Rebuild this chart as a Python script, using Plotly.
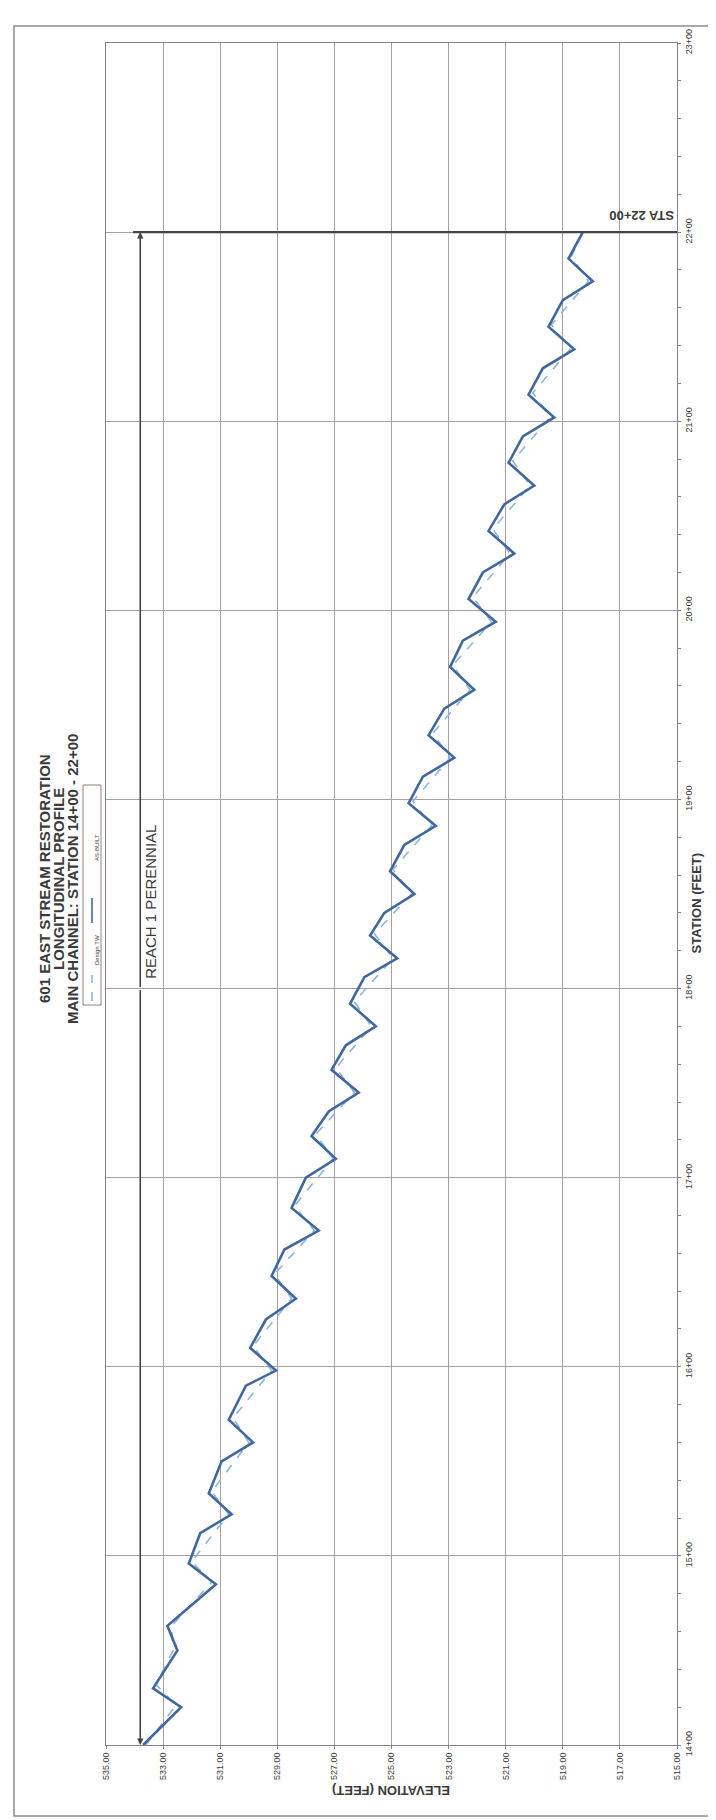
import plotly.graph_objects as go

# ---------------- data ----------------
asbuilt_station = [1400, 1420, 1430, 1450, 1463, 1485, 1496, 1512, 1522, 1533, 1550, 1560, 1572,
                   1590, 1598, 1610, 1625, 1636, 1648, 1662, 1672, 1684, 1700, 1710, 1722, 1735,
                   1745, 1757, 1770, 1780, 1792, 1806, 1816, 1828, 1840, 1850, 1862, 1876, 1886,
                   1898, 1912, 1922, 1934, 1948, 1958, 1970, 1984, 1994, 2006, 2020, 2030, 2042,
                   2056, 2066, 2078, 2092, 2102, 2114, 2128, 2138, 2150, 2164, 2174, 2186, 2200]
asbuilt_elev = [533.70, 532.37, 533.35, 532.50, 532.85, 531.15, 532.10, 531.70, 530.60, 531.40,
                530.95, 529.85, 530.70, 530.10, 529.05, 529.95, 529.40, 528.35, 529.20, 528.75,
                527.55, 528.50, 528.00, 526.95, 527.80, 527.20, 526.15, 527.10, 526.60, 525.55,
                526.45, 525.95, 524.80, 525.75, 525.25, 524.20, 525.05, 524.55, 523.45, 524.40,
                523.90, 522.80, 523.70, 523.15, 522.10, 522.95, 522.50, 521.35, 522.30, 521.80,
                520.70, 521.60, 521.05, 520.00, 520.90, 520.40, 519.30, 520.20, 519.70, 518.60,
                519.50, 519.00, 517.95, 518.80, 518.30]
design_station = [1400, 1421, 1432, 1450, 1463, 1486, 1497, 1522, 1534, 1560, 1573, 1598, 1611,
                  1636, 1649, 1672, 1685, 1710, 1723, 1745, 1758, 1780, 1793, 1816, 1829, 1850,
                  1863, 1886, 1899, 1922, 1935, 1958, 1971, 1994, 2007, 2030, 2043, 2066, 2079,
                  2102, 2115, 2138, 2151, 2174, 2187, 2200]
design_elev = [533.60, 532.55, 533.25, 532.65, 532.70, 531.30, 532.00, 530.70, 531.30, 530.00,
               530.55, 529.20, 529.85, 528.50, 529.10, 527.70, 528.40, 527.05, 527.65, 526.30,
               526.95, 525.70, 526.30, 524.95, 525.60, 524.30, 524.95, 523.60, 524.25, 522.95,
               523.55, 522.25, 522.85, 521.50, 522.15, 520.85, 521.45, 520.15, 520.75, 519.45,
               520.05, 518.75, 519.40, 518.10, 518.70, 518.30]

elev_ticks = [535, 533, 531, 529, 527, 525, 523, 521, 519, 517, 515]
elev_ticklabels = ["535.00", "533.00", "531.00", "529.00", "527.00", "525.00",
                   "523.00", "521.00", "519.00", "517.00", "515.00"]
station_ticks = [1400, 1500, 1600, 1700, 1800, 1900, 2000, 2100, 2200, 2300]
station_ticklabels = ["14+00", "15+00", "16+00", "17+00", "18+00",
                      "19+00", "20+00", "21+00", "22+00", "23+00"]

title_lines = ["601 EAST STREAM RESTORATION", "LONGITUDINAL PROFILE",
               "MAIN CHANNEL: STATION 14+00 - 22+00"]
reach_label = "REACH 1 PERENNIAL"
reach_elev = 533.8
reach_start, reach_end = 1400, 2200
sta_label = "STA 22+00"

# ---------------- layout geometry (pixels) ----------------
W, H = 716, 1820
L, R, T, B = 98, 669, 35, 1737


def px(x):
    return (x - L) / (R - L)


def py(y):
    return (B - y) / (B - T)


FONT = "Liberation Sans, Arial, sans-serif"
GRID = "#a99e9f"
TEXT = "#3a3a3a"

fig = go.Figure()
fig.add_trace(go.Scatter(x=design_elev, y=design_station, mode="lines", name="Design TW",
                         line=dict(color="#8fb4e0", width=1.6, dash="dash")))
fig.add_trace(go.Scatter(x=asbuilt_elev, y=asbuilt_station, mode="lines", name="AS-BUILT",
                         line=dict(color="#40689f", width=2.6)))

shapes = []
shapes.append(dict(type="rect", xref="paper", yref="paper", x0=px(6), x1=px(708),
                   y0=py(1808), y1=py(18), line=dict(color="#8c8c8c", width=1.5)))
shapes.append(dict(type="line", xref="x", yref="y", x0=534.05, x1=515, y0=reach_end,
                   y1=reach_end, line=dict(color="#444444", width=2.2)))
shapes.append(dict(type="rect", xref="paper", yref="paper", x0=px(75), x1=px(93),
                   y0=py(997), y1=py(777), line=dict(color="#9a7f80", width=1),
                   fillcolor="white"))
shapes.append(dict(type="line", xref="paper", yref="paper", x0=px(84), x1=px(84),
                   y0=py(993), y1=py(967), line=dict(color="#8fb4e0", width=1.6, dash="dash")))
shapes.append(dict(type="line", xref="paper", yref="paper", x0=px(84), x1=px(84),
                   y0=py(915), y1=py(890), line=dict(color="#40689f", width=1.6)))

annotations = []
for i, line in enumerate(title_lines):
    annotations.append(dict(text="<b>%s</b>" % line, xref="paper", yref="paper",
                            x=px(37 + 14 * i), y=py(871), textangle=-90, showarrow=False,
                            xanchor="center", yanchor="middle",
                            font=dict(family=FONT, size=15, color=TEXT)))
annotations.append(dict(text="Design TW", xref="paper", yref="paper", x=px(84), y=py(942),
                        textangle=-90, showarrow=False, font=dict(family=FONT, size=6, color=TEXT)))
annotations.append(dict(text="AS-BUILT", xref="paper", yref="paper", x=px(84), y=py(840),
                        textangle=-90, showarrow=False, font=dict(family=FONT, size=6, color=TEXT)))
annotations.append(dict(text=reach_label, x=533.45, y=1846, xref="x", yref="y", textangle=-90,
                        showarrow=False, font=dict(family=FONT, size=15, color=TEXT)))
for head in (reach_end, reach_start):
    annotations.append(dict(x=reach_elev, y=head, ax=reach_elev, ay=1800, xref="x", yref="y",
                            axref="x", ayref="y", text="", showarrow=True, arrowhead=2,
                            arrowsize=0.8, arrowwidth=1.6, arrowcolor="#444444"))
annotations.append(dict(text="<b>%s</b>" % sta_label, xref="paper", yref="paper", x=px(668),
                        y=py(207), textangle=180, showarrow=False, xanchor="right",
                        yanchor="middle", font=dict(family=FONT, size=13, color=TEXT)))
annotations.append(dict(text="<b>STATION (FEET)</b>", xref="paper", yref="paper", x=px(697),
                        y=py(895), textangle=-90, showarrow=False,
                        font=dict(family=FONT, size=13, color=TEXT)))
annotations.append(dict(text="<b>ELEVATION (FEET)</b>", xref="paper", yref="paper", x=px(383),
                        y=py(1792), textangle=180, showarrow=False,
                        font=dict(family=FONT, size=13, color=TEXT)))

fig.update_layout(
    width=W, height=H, paper_bgcolor="white", plot_bgcolor="white", showlegend=False,
    margin=dict(l=L, r=W - R, t=T, b=H - B),
    shapes=shapes, annotations=annotations,
    xaxis=dict(range=[535, 515], tickmode="array", tickvals=elev_ticks,
               ticktext=elev_ticklabels, tickangle=-90, showgrid=True, gridcolor=GRID,
               gridwidth=1, showline=True, linecolor="#8a7f80", linewidth=1, mirror=True,
               ticks="outside", ticklen=3, tickcolor="#8a7f80", zeroline=False,
               tickfont=dict(family=FONT, size=9, color=TEXT)),
    yaxis=dict(range=[1400, 2300], side="right", tickmode="array", tickvals=station_ticks,
               ticktext=station_ticklabels, tickangle=-90, showgrid=True, gridcolor=GRID,
               gridwidth=1, showline=True, linecolor="#8a7f80", linewidth=1, mirror=True,
               ticks="outside", ticklen=3, tickcolor="#8a7f80", zeroline=False,
               minor=dict(dtick=20, ticks="outside", ticklen=3, tickcolor="#8a7f80",
                          showgrid=False),
               tickfont=dict(family=FONT, size=9, color=TEXT)),
)

fig.write_html("out.html")
